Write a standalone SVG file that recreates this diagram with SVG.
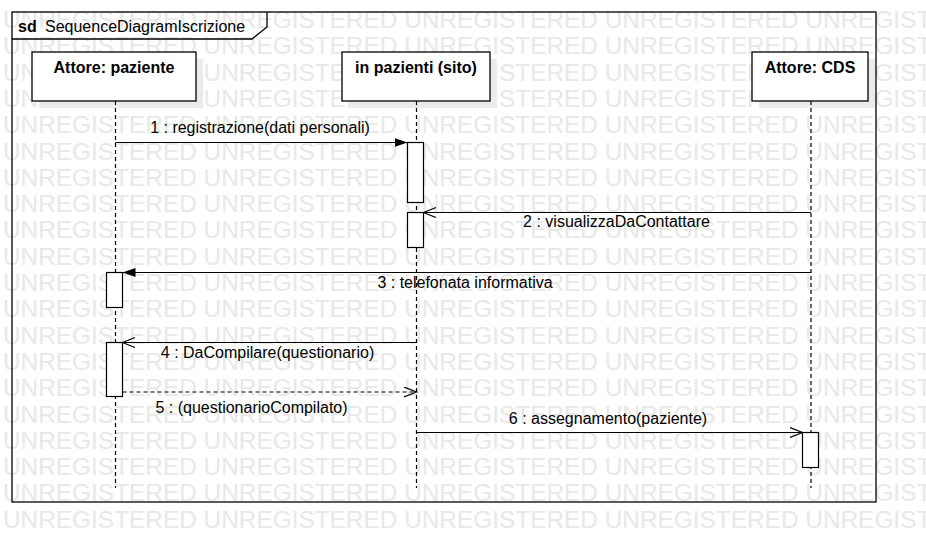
<svg xmlns="http://www.w3.org/2000/svg" width="926" height="552" viewBox="0 0 926 552">
  <style>
    .wm { font-family: "Liberation Sans", Arial, sans-serif; font-size: 24.4px; fill: #e8e8e8; }
    .frame { fill: none; stroke: #000; stroke-width: 1.3; }
    .box { fill: #fff; stroke: #000; stroke-width: 1.3; }
    .shadow { fill: #ebebeb; }
    .name { font-family: "Liberation Sans", Arial, sans-serif; font-size: 16px; font-weight: bold; text-anchor: middle; fill: #000; }
    .title { font-family: "Liberation Sans", Arial, sans-serif; font-size: 16px; fill: #000; }
    .lifeline { stroke: #000; stroke-width: 1.2; stroke-dasharray: 4 3; fill: none; }
    .act { fill: #fff; stroke: #000; stroke-width: 1.2; }
    .msg { stroke: #000; stroke-width: 1.2; fill: none; }
    .reply { stroke-dasharray: 4 3; }
    .lbl { font-family: "Liberation Sans", Arial, sans-serif; font-size: 16px; text-anchor: middle; fill: #000; }
  </style>
  <defs>
    <marker id="sync" markerUnits="userSpaceOnUse" markerWidth="14" markerHeight="10" refX="13" refY="4.5" orient="auto">
      <path d="M0,0 L13,4.5 L0,9 Z" fill="#000"/>
    </marker>
    <marker id="open" markerUnits="userSpaceOnUse" markerWidth="15" markerHeight="12" refX="13" refY="5.5" orient="auto">
      <path d="M0.5,0.5 L13,5.5 L0.5,10.5" fill="none" stroke="#000" stroke-width="1.2"/>
    </marker>
  </defs>

  <rect width="926" height="552" fill="#fff"/>

  <!-- background watermark rows -->
  <g id="watermark" class="wm">
    <text x="3" y="28">UNREGISTERED UNREGISTERED UNREGISTERED UNREGISTERED UNREGISTERED</text>
    <text x="3" y="54.3">UNREGISTERED UNREGISTERED UNREGISTERED UNREGISTERED UNREGISTERED</text>
    <text x="3" y="80.6">UNREGISTERED UNREGISTERED UNREGISTERED UNREGISTERED UNREGISTERED</text>
    <text x="3" y="106.9">UNREGISTERED UNREGISTERED UNREGISTERED UNREGISTERED UNREGISTERED</text>
    <text x="3" y="133.2">UNREGISTERED UNREGISTERED UNREGISTERED UNREGISTERED UNREGISTERED</text>
    <text x="3" y="159.5">UNREGISTERED UNREGISTERED UNREGISTERED UNREGISTERED UNREGISTERED</text>
    <text x="3" y="185.8">UNREGISTERED UNREGISTERED UNREGISTERED UNREGISTERED UNREGISTERED</text>
    <text x="3" y="212.1">UNREGISTERED UNREGISTERED UNREGISTERED UNREGISTERED UNREGISTERED</text>
    <text x="3" y="238.4">UNREGISTERED UNREGISTERED UNREGISTERED UNREGISTERED UNREGISTERED</text>
    <text x="3" y="264.7">UNREGISTERED UNREGISTERED UNREGISTERED UNREGISTERED UNREGISTERED</text>
    <text x="3" y="291">UNREGISTERED UNREGISTERED UNREGISTERED UNREGISTERED UNREGISTERED</text>
    <text x="3" y="317.3">UNREGISTERED UNREGISTERED UNREGISTERED UNREGISTERED UNREGISTERED</text>
    <text x="3" y="343.6">UNREGISTERED UNREGISTERED UNREGISTERED UNREGISTERED UNREGISTERED</text>
    <text x="3" y="369.9">UNREGISTERED UNREGISTERED UNREGISTERED UNREGISTERED UNREGISTERED</text>
    <text x="3" y="396.2">UNREGISTERED UNREGISTERED UNREGISTERED UNREGISTERED UNREGISTERED</text>
    <text x="3" y="422.5">UNREGISTERED UNREGISTERED UNREGISTERED UNREGISTERED UNREGISTERED</text>
    <text x="3" y="448.8">UNREGISTERED UNREGISTERED UNREGISTERED UNREGISTERED UNREGISTERED</text>
    <text x="3" y="475.1">UNREGISTERED UNREGISTERED UNREGISTERED UNREGISTERED UNREGISTERED</text>
    <text x="3" y="501.4">UNREGISTERED UNREGISTERED UNREGISTERED UNREGISTERED UNREGISTERED</text>
    <text x="3" y="527.7">UNREGISTERED UNREGISTERED UNREGISTERED UNREGISTERED UNREGISTERED</text>
  </g>

  <!-- interaction frame -->
  <g id="frame">
    <rect class="frame" x="12" y="12" width="864" height="490"/>
    <path class="frame" d="M12,39 L252,39 L267,27 L267,12"/>
    <text class="title" x="18" y="31.5" font-weight="bold">sd</text>
    <text class="title" x="45" y="31.5">SequenceDiagramIscrizione</text>
  </g>

  <!-- lifelines -->
  <g id="lifeline-paziente">
    <rect class="shadow" x="39" y="59" width="164" height="49"/>
    <rect class="box" x="32" y="52" width="164" height="49"/>
    <text class="name" x="114" y="73">Attore: paziente</text>
    <line class="lifeline" x1="115.5" y1="101" x2="115.5" y2="488"/>
  </g>
  <g id="lifeline-sito">
    <rect class="shadow" x="349" y="59" width="148" height="49"/>
    <rect class="box" x="342" y="52" width="148" height="49"/>
    <text class="name" x="416" y="73">in pazienti (sito)</text>
    <line class="lifeline" x1="416.5" y1="101" x2="416.5" y2="488"/>
  </g>
  <g id="lifeline-cds">
    <rect class="shadow" x="759" y="59" width="116" height="49"/>
    <rect class="box" x="752" y="52" width="116" height="49"/>
    <text class="name" x="810" y="73">Attore: CDS</text>
    <line class="lifeline" x1="811" y1="101" x2="811" y2="488"/>
  </g>

  <!-- activation bars -->
  <g id="activations">
    <rect class="act" x="407.5" y="142.5" width="16" height="60"/>
    <rect class="act" x="407.5" y="212.5" width="16" height="35"/>
    <rect class="act" x="106.5" y="272.5" width="16" height="35"/>
    <rect class="act" x="106.5" y="342.5" width="16" height="54"/>
    <rect class="act" x="802.5" y="432.5" width="16" height="35"/>
  </g>

  <!-- messages -->
  <g id="messages">
    <line class="msg" x1="115.5" y1="142.5" x2="407.5" y2="142.5" marker-end="url(#sync)"/>
    <line class="msg" x1="811" y1="212.5" x2="423.5" y2="212.5" marker-end="url(#open)"/>
    <line class="msg" x1="811" y1="272.5" x2="122.5" y2="272.5" marker-end="url(#sync)"/>
    <line class="msg" x1="416.5" y1="342.5" x2="122.5" y2="342.5" marker-end="url(#open)"/>
    <line class="msg reply" x1="122.5" y1="392" x2="416.5" y2="392" marker-end="url(#open)"/>
    <line class="msg" x1="416.5" y1="432.5" x2="802.5" y2="432.5" marker-end="url(#open)"/>
  </g>

  <g id="message-labels">
    <text class="lbl" x="260" y="133">1 : registrazione(dati personali)</text>
    <text class="lbl" x="616.5" y="227">2 : visualizzaDaContattare</text>
    <text class="lbl" x="465" y="288">3 : telefonata informativa</text>
    <text class="lbl" x="267.5" y="358">4 : DaCompilare(questionario)</text>
    <text class="lbl" x="251.5" y="413">5 : (questionarioCompilato)</text>
    <text class="lbl" x="608" y="424">6 : assegnamento(paziente)</text>
  </g>
</svg>
